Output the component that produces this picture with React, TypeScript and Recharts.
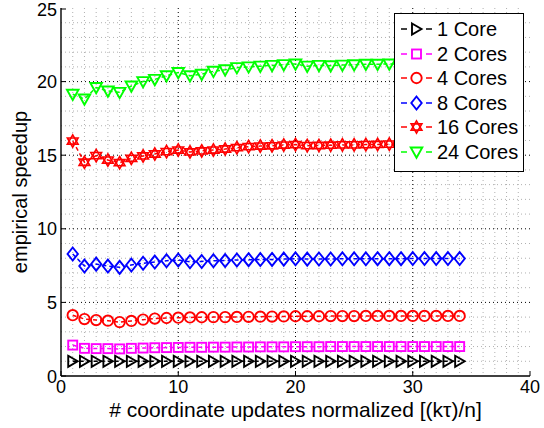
import { LineChart, Line, XAxis, YAxis, CartesianGrid, Legend } from 'recharts';

const X = [1, 2, 3, 4, 5, 6, 7, 8, 9, 10, 11, 12, 13, 14, 15, 16, 17, 18, 19, 20, 21, 22, 23, 24, 25, 26, 27, 28, 29, 30, 31, 32, 33, 34];

const CORE1 = [1.0, 1.0, 1.0, 1.0, 1.0, 1.0, 1.0, 1.0, 1.0, 1.0, 1.0, 1.0, 1.0, 1.0, 1.0, 1.0, 1.0, 1.0, 1.0, 1.0, 1.0, 1.0, 1.0, 1.0, 1.0, 1.0, 1.0, 1.0, 1.0, 1.0, 1.0, 1.0, 1.0, 1.0];
const CORE2 = [2.1, 1.88, 1.86, 1.86, 1.84, 1.88, 1.9, 1.92, 1.93, 1.94, 1.95, 1.95, 1.96, 1.96, 1.97, 1.97, 1.98, 1.98, 1.98, 1.99, 1.99, 1.99, 2.0, 2.0, 2.0, 2.0, 2.0, 2.0, 2.0, 2.0, 2.0, 2.0, 2.0, 2.0];
const CORE4 = [4.13, 3.87, 3.8, 3.76, 3.66, 3.74, 3.83, 3.9, 3.94, 3.96, 3.98, 3.99, 4.0, 4.0, 4.01, 4.02, 4.03, 4.04, 4.05, 4.06, 4.06, 4.06, 4.07, 4.07, 4.07, 4.08, 4.08, 4.08, 4.08, 4.08, 4.08, 4.08, 4.08, 4.08];
const CORE8 = [8.29, 7.47, 7.6, 7.47, 7.38, 7.54, 7.66, 7.74, 7.83, 7.88, 7.76, 7.78, 7.83, 7.84, 7.88, 7.9, 7.91, 7.92, 7.94, 7.96, 7.94, 7.95, 7.95, 7.96, 7.96, 7.96, 7.97, 7.97, 7.97, 7.98, 7.98, 7.98, 7.98, 7.98];
const CORE16 = [15.96, 14.52, 14.97, 14.67, 14.49, 14.79, 14.95, 15.08, 15.24, 15.35, 15.22, 15.29, 15.35, 15.42, 15.51, 15.58, 15.62, 15.64, 15.69, 15.72, 15.65, 15.66, 15.68, 15.7, 15.7, 15.72, 15.73, 15.75, 15.75, 15.76, 15.76, 15.77, 15.77, 15.78];
const CORE24 = [19.14, 18.82, 19.6, 19.36, 19.27, 19.7, 20.0, 20.15, 20.4, 20.62, 20.4, 20.5, 20.7, 20.8, 20.95, 21.0, 21.05, 21.1, 21.15, 21.2, 21.05, 21.1, 21.08, 21.12, 21.14, 21.18, 21.18, 21.2, 21.2, 21.22, 21.22, 21.24, 21.24, 21.25];

const X_TICKS = [0, 10, 20, 30, 40];
const Y_TICKS = [0, 5, 10, 15, 20, 25];
const X_MAJOR = [10, 20, 30];
const Y_MAJOR = [5, 10, 15, 20];
const X_MINOR = [1, 2, 3, 4, 5, 6, 7, 8, 9, 11, 12, 13, 14, 15, 16, 17, 18, 19, 21, 22, 23, 24, 25, 26, 27, 28, 29, 31, 32, 33, 34, 35, 36, 37, 38, 39];
const Y_MINOR = [1, 2, 3, 4, 6, 7, 8, 9, 11, 12, 13, 14, 16, 17, 18, 19, 21, 22, 23, 24];

const SERIES = [
  { key: 'c1', name: '1 Core', color: '#000000', shape: 'right', values: CORE1 },
  { key: 'c2', name: '2 Cores', color: '#ff00ff', shape: 'square', values: CORE2 },
  { key: 'c4', name: '4 Cores', color: '#ff0000', shape: 'circle', values: CORE4 },
  { key: 'c8', name: '8 Cores', color: '#0000ff', shape: 'diamond', values: CORE8 },
  { key: 'c16', name: '16 Cores', color: '#ff0000', shape: 'hexagram', values: CORE16 },
  { key: 'c24', name: '24 Cores', color: '#00ff00', shape: 'down', values: CORE24 },
];

const data = X.map((x, i) => {
  const row: Record<string, number> = { x };
  SERIES.forEach((s) => (row[s.key] = s.values[i]));
  return row;
});

const FONT = '"Liberation Sans", Arial, Helvetica, sans-serif';
const MW = 1.9; // marker stroke width

function Marker({ shape, cx, cy, color }: { shape: string; cx: number; cy: number; color: string }) {
  const common = { fill: 'none', stroke: color, strokeWidth: MW, strokeLinejoin: 'miter' as const };
  if (shape === 'right') {
    return <polygon points={`${cx - 4.5},${cy - 5.5} ${cx + 5},${cy} ${cx - 4.5},${cy + 5.5}`} {...common} />;
  }
  if (shape === 'square') {
    return <rect x={cx - 4.5} y={cy - 4.5} width={9} height={9} {...common} />;
  }
  if (shape === 'circle') {
    return <circle cx={cx} cy={cy} r={5.2} {...common} />;
  }
  if (shape === 'diamond') {
    return <polygon points={`${cx},${cy - 6.5} ${cx + 5.2},${cy} ${cx},${cy + 6.5} ${cx - 5.2},${cy}`} {...common} />;
  }
  if (shape === 'hexagram') {
    const r = 6.2;
    const tri = (start: number) =>
      [0, 1, 2]
        .map((k) => {
          const a = ((start + k * 120) * Math.PI) / 180;
          return `${cx + r * Math.cos(a)},${cy + r * Math.sin(a)}`;
        })
        .join(' ');
    return (
      <g>
        <polygon points={tri(-90)} {...common} strokeWidth={1.6} />
        <polygon points={tri(90)} {...common} strokeWidth={1.6} />
      </g>
    );
  }
  // down triangle
  return <polygon points={`${cx - 5.8},${cy - 4.5} ${cx + 5.8},${cy - 4.5} ${cx},${cy + 5.8}`} {...common} />;
}

const makeDot = (shape: string, color: string) => (p: any) => {
  if (p.cx == null || p.cy == null) return <g key={`e-${p.index}`} />;
  return (
    <g key={`d-${p.index}`}>
      <Marker shape={shape} cx={p.cx} cy={p.cy} color={color} />
    </g>
  );
};

const BottomTick = (p: any) => (
  <g>
    <line x1={p.x} y1={p.y} x2={p.x} y2={p.y - 5} stroke="#000" />
    <text x={p.x} y={p.y + 17} textAnchor="middle" fontSize={18} fontFamily={FONT} fill="#000">
      {p.payload.value}
    </text>
  </g>
);

const LeftTick = (p: any) => (
  <g>
    <line x1={p.x} y1={p.y} x2={p.x + 5} y2={p.y} stroke="#000" />
    <text x={p.x - 4} y={p.y + 6.5} textAnchor="end" fontSize={18} fontFamily={FONT} fill="#000">
      {p.payload.value}
    </text>
  </g>
);

const TopTick = (p: any) => <line x1={p.x} y1={p.y} x2={p.x} y2={p.y + 5} stroke="#000" />;
const RightTick = (p: any) => <line x1={p.x} y1={p.y} x2={p.x - 5} y2={p.y} stroke="#000" />;

// grid line positions from the plot box (y domain 0..25, x domain 0..40)
const gridY = (vals: number[]) => ({ offset }: any) =>
  vals.map((v) => offset.top + offset.height * (1 - v / 25));
const gridX = (vals: number[]) => ({ offset }: any) =>
  vals.map((v) => offset.left + (offset.width * v) / 40);

function LegendBox() {
  return (
    <div
      style={{
        background: '#fff',
        border: '1.5px solid #000',
        padding: '3px 6px 7px 6px',
        width: 116,
        fontFamily: FONT,
        fontSize: 20,
        color: '#000',
      }}
    >
      {SERIES.map((s) => (
        <div key={s.key} style={{ display: 'flex', alignItems: 'center', height: 24.5, whiteSpace: 'nowrap' }}>
          <svg width={32} height={20} style={{ flex: 'none' }}>
            <line x1={0} y1={10} x2={6} y2={10} stroke={s.color} strokeWidth={1.5} />
            <line x1={25} y1={10} x2={31} y2={10} stroke={s.color} strokeWidth={1.5} />
            <Marker shape={s.shape} cx={15.5} cy={10} color={s.color} />
          </svg>
          <span style={{ marginLeft: 4, lineHeight: '24px' }}>{s.name}</span>
        </div>
      ))}
    </div>
  );
}

export default function App() {
  return (
    <div style={{ position: 'absolute', left: 0, top: 0, width: 544, height: 428, background: '#fff', fontFamily: FONT }}>
      <LineChart width={544} height={428} data={data} margin={{ top: 8, right: 14, bottom: 0, left: 0 }}>
        <CartesianGrid
          stroke="#b0b0b0"
          strokeDasharray="1 3"
          horizontalCoordinatesGenerator={gridY(Y_MINOR)}
          verticalCoordinatesGenerator={gridX(X_MINOR)}
        />
        <CartesianGrid
          stroke="#000"
          strokeDasharray="1 3"
          horizontalCoordinatesGenerator={gridY(Y_MAJOR)}
          verticalCoordinatesGenerator={gridX(X_MAJOR)}
        />
        <XAxis
          dataKey="x"
          type="number"
          domain={[0, 40]}
          ticks={X_TICKS}
          height={52}
          tickSize={0}
          tickMargin={0}
          tickLine={false}
          tick={<BottomTick />}
          axisLine={{ stroke: '#000', strokeWidth: 1.4 }}
          label={{ value: '# coordinate updates normalized [(kτ)/n]', position: 'insideBottom', offset: 11, fill: '#000', fontSize: 21 }}
        />
        <XAxis
          xAxisId="top"
          orientation="top"
          dataKey="x"
          type="number"
          domain={[0, 40]}
          ticks={X_TICKS}
          height={0}
          tickSize={0}
          tickMargin={0}
          tickLine={false}
          tick={<TopTick />}
          axisLine={{ stroke: '#000', strokeWidth: 1.4 }}
        />
        <YAxis
          type="number"
          domain={[0, 25]}
          ticks={Y_TICKS}
          width={61}
          tickSize={0}
          tickMargin={0}
          tickLine={false}
          tick={<LeftTick />}
          axisLine={{ stroke: '#000', strokeWidth: 1.4 }}
          label={{ value: 'empirical speedup', angle: -90, position: 'insideLeft', offset: 20, fill: '#000', fontSize: 20, style: { textAnchor: 'middle' } }}
        />
        <YAxis
          yAxisId="right"
          orientation="right"
          type="number"
          domain={[0, 25]}
          ticks={Y_TICKS}
          width={0}
          tickSize={0}
          tickMargin={0}
          tickLine={false}
          tick={<RightTick />}
          axisLine={{ stroke: '#000', strokeWidth: 1.4 }}
        />
        {SERIES.map((s) => (
          <Line
            key={s.key}
            dataKey={s.key}
            name={s.name}
            type="linear"
            stroke={s.color}
            strokeWidth={1.5}
            strokeDasharray="4 3"
            dot={makeDot(s.shape, s.color)}
            activeDot={false}
            isAnimationActive={false}
          />
        ))}
        <Legend
          layout="horizontal"
          verticalAlign="middle"
          align="center"
          content={<LegendBox />}
          wrapperStyle={{ position: 'absolute', top: 13, left: 394, width: 'auto' }}
        />
      </LineChart>
    </div>
  );
}
